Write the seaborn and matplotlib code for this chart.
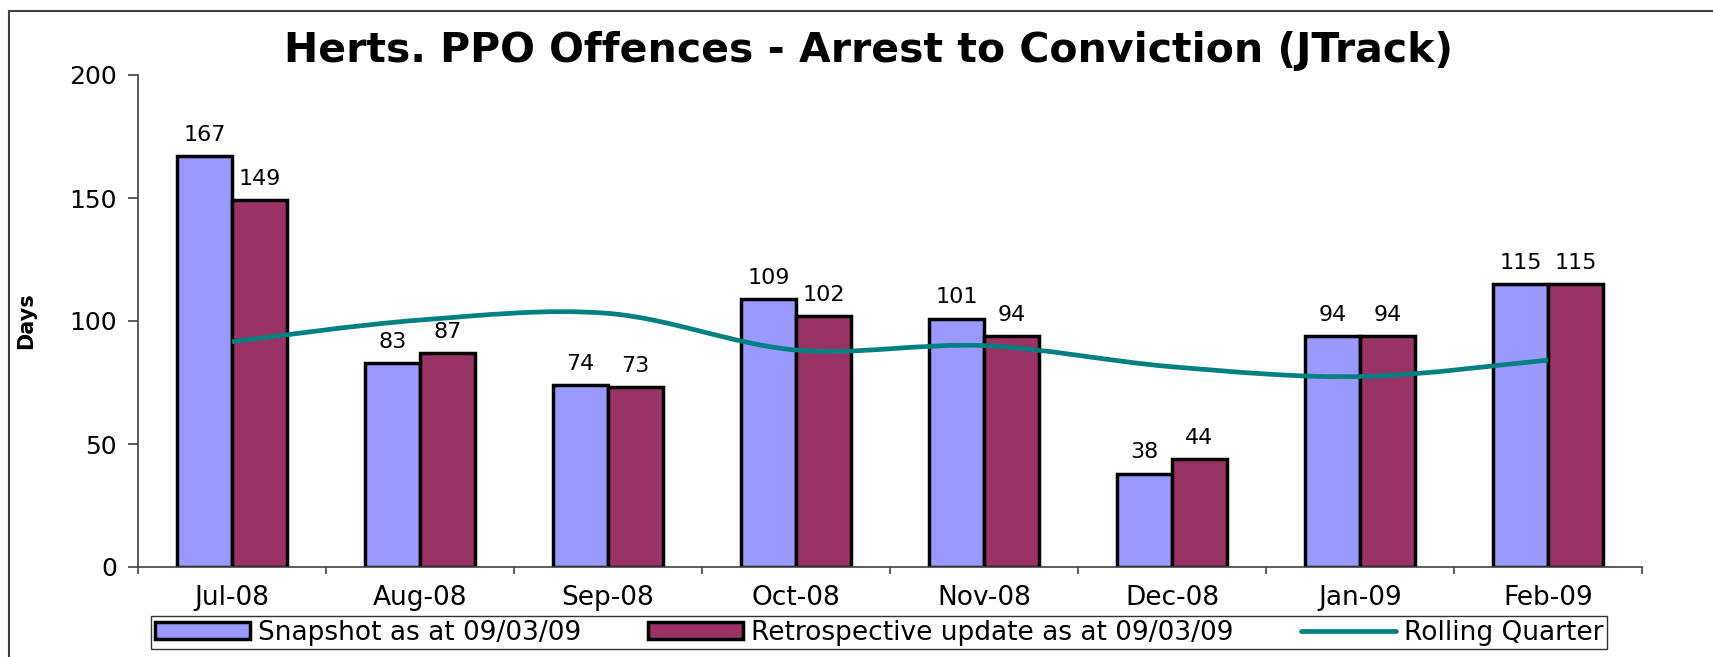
import matplotlib
matplotlib.use("Agg")
import matplotlib.pyplot as plt
from matplotlib.path import Path
from matplotlib.patches import PathPatch, Patch, Rectangle
from matplotlib.lines import Line2D
import numpy as np
import pandas as pd
import seaborn as sns

# chart data
months = ["Jul-08", "Aug-08", "Sep-08", "Oct-08", "Nov-08", "Dec-08", "Jan-09", "Feb-09"]
snapshot = [167, 83, 74, 109, 101, 38, 94, 115]
retrospective = [149, 87, 73, 102, 94, 44, 94, 115]
rolling_quarter = [91.6, 100.4, 103.1, 88.2, 90.0, 81.4, 77.4, 84.1]
series_names = ["Snapshot as at 09/03/09", "Retrospective update as at 09/03/09"]
line_name = "Rolling Quarter"
y_ticks = [0, 50, 100, 150, 200]

# long format table for seaborn
df = pd.DataFrame({
    "month": months * 2,
    "days": snapshot + retrospective,
    "series": [series_names[0]] * len(months) + [series_names[1]] * len(months),
})

sns.set_style("white")
plt.rcParams["font.family"] = ["DejaVu Sans"]
plt.rcParams["text.color"] = "black"
plt.rcParams["axes.labelcolor"] = "black"
plt.rcParams["xtick.color"] = "black"
plt.rcParams["ytick.color"] = "black"

bar_colors = ["#9999FF", "#993366"]
line_color = "#008080"
axis_color = "#404040"

fig = plt.figure(figsize=(17.13, 6.57), dpi=100)
ax = fig.add_axes([138 / 1713, 90 / 657, 1504 / 1713, 492 / 657])

sns.barplot(data=df, x="month", y="days", hue="series", order=months, hue_order=series_names,
            palette=bar_colors, saturation=1, width=0.586, edgecolor="black", linewidth=2.5,
            ax=ax, legend=False, zorder=2)

# value labels on top of the bars
for cont in ax.containers:
    ax.bar_label(cont, fmt="%d", padding=8, fontsize=16)

# smoothed rolling quarter line (catmull-rom style bezier through the points)
xs = np.arange(len(months))
pts = np.column_stack([xs, rolling_quarter])
ext = np.vstack([pts[0], pts, pts[-1]])
verts = [pts[0]]
codes = [Path.MOVETO]
for i in range(len(pts) - 1):
    p0, p1, p2, p3 = ext[i], ext[i + 1], ext[i + 2], ext[i + 3]
    verts += [p1 + (p2 - p0) / 6, p2 - (p3 - p1) / 6, p2]
    codes += [Path.CURVE4] * 3
ax.add_patch(PathPatch(Path(verts, codes), fill=False, edgecolor=line_color, lw=3.4, zorder=4))

ax.set_xlim(-0.5, len(months) - 0.5)
ax.set_ylim(0, 200)
ax.set_yticks(y_ticks)
ax.set_xlabel("")
ax.set_ylabel("Days", fontsize=15, fontweight="bold")
ax.yaxis.set_label_coords(-0.068, 0.5)

for s in ["top", "right"]:
    ax.spines[s].set_visible(False)
for s in ["left", "bottom"]:
    ax.spines[s].set_color(axis_color)
    ax.spines[s].set_linewidth(1.2)

ax.tick_params(axis="y", direction="out", left=True, length=7, width=1.2, color=axis_color,
               pad=8, labelsize=18)
ax.tick_params(axis="x", which="major", length=0, pad=13, labelsize=19)
ax.set_xticks(np.arange(-0.5, len(months)), minor=True)
ax.tick_params(axis="x", which="minor", direction="out", bottom=True, length=5, width=1.2,
               color=axis_color)

fig.text(868 / 1713, 1 - 51 / 657, "Herts. PPO Offences - Arrest to Conviction (JTrack)",
         ha="center", va="center", fontsize=29.5, fontweight="bold")

handles = [Patch(facecolor=bar_colors[0], edgecolor="black", linewidth=2.5),
           Patch(facecolor=bar_colors[1], edgecolor="black", linewidth=2.5),
           Line2D([0], [0], color=line_color, lw=3.4)]
leg = fig.legend(handles, series_names + [line_name], loc="center",
                 bbox_to_anchor=(879 / 1713, 1 - 632.5 / 657), ncol=3, fontsize=19,
                 frameon=True, fancybox=False, edgecolor="black", handlelength=3.6,
                 handleheight=0.6, handletextpad=0.3, columnspacing=2.55, borderpad=0.15,
                 borderaxespad=0)
leg.get_frame().set_linewidth(1)

# outer chart frame
fig.patches.append(Rectangle((9 / 1713, -0.05), 1.2, 1 - 11 / 657 + 0.05,
                             transform=fig.transFigure, fill=False,
                             edgecolor=axis_color, lw=1.5))

fig.savefig("out.png", dpi=100)
